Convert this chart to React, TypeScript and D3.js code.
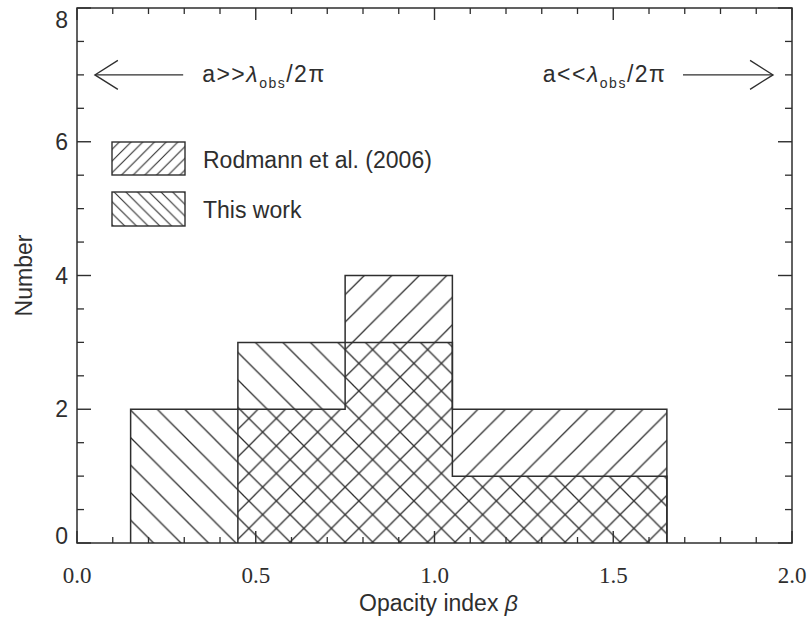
import React from "react";
import * as d3 from "d3";

// ---- data ----
const binEdges = [0.15, 0.45, 0.75, 1.05, 1.35, 1.65];
const thisWork = [2, 3, 3, 1, 1];
const rodmann = [0, 2, 4, 2, 2];
const xMajorTicks = [0, 0.5, 1.0, 1.5, 2.0];
const xTickLabels = ["0.0", "0.5", "1.0", "1.5", "2.0"];
const yMajorTicks = [0, 2, 4, 6, 8];
const yTickLabels = ["0", "2", "4", "6", "8"];
const legendLabels = ["Rodmann et al. (2006)", "This work"];
const xTitle = "Opacity index ";
const yTitle = "Number";

const W = 808;
const H = 630;
const M = { left: 77, right: 792, top: 8, bottom: 543 };
const INK = "#2e2e2e";
const SANS = "'Liberation Sans', Arial, Helvetica, sans-serif";
const SERIF = "'Liberation Serif', 'Times New Roman', serif";
const FS = 23;

export default function App() {
  const x = d3.scaleLinear().domain([0, 2]).range([M.left, M.right]);
  const y = d3.scaleLinear().domain([0, 8]).range([M.bottom, M.top]);

  const stepPts = (vals: number[]) => {
    const pts: [number, number][] = vals.map((v, i) => [binEdges[i], v]);
    pts.push([binEdges[binEdges.length - 1], vals[vals.length - 1]]);
    return pts;
  };
  const area = d3
    .area<[number, number]>()
    .x((d) => x(d[0]))
    .y0(y(0))
    .y1((d) => y(d[1]))
    .curve(d3.curveStepAfter);
  const outline = d3
    .line<[number, number]>()
    .x((d) => x(d[0]))
    .y((d) => y(d[1]))
    .curve(d3.curveStepAfter);
  const outlinePts = (vals: number[]) => {
    const firstNonZero = vals.findIndex((v) => v > 0);
    const pts: [number, number][] = [[binEdges[firstNonZero], 0]];
    for (let i = firstNonZero; i < vals.length; i++) pts.push([binEdges[i], vals[i]]);
    pts.push([binEdges[binEdges.length - 1], vals[vals.length - 1]]);
    pts.push([binEdges[binEdges.length - 1], 0]);
    return pts;
  };

  const xMinor = d3.range(0, 2.0001, 0.1).filter((t) => Math.abs(t * 2 - Math.round(t * 2)) > 1e-6);
  const yMinor = d3.range(0, 8.0001, 0.5).filter((t) => Math.abs(t / 2 - Math.round(t / 2)) > 1e-6);

  const S = 27.5;
  const LS = 11.7;
  const hatchPath = (s: number, dir: "f" | "b") =>
    dir === "f"
      ? `M0,${s} L${s},0 M${-s / 4},${s / 4} L${s / 4},${-s / 4} M${(3 * s) / 4},${(5 * s) / 4} L${(5 * s) / 4},${(3 * s) / 4}`
      : `M0,0 L${s},${s} M${-s / 4},${(3 * s) / 4} L${s / 4},${(5 * s) / 4} M${(3 * s) / 4},${-s / 4} L${(5 * s) / 4},${s / 4}`;

  const arrowY = y(7);
  const leftArrow = { tip: x(0.05), tail: x(0.297) };
  const rightArrow = { tail: x(1.695), tip: x(1.947) };
  const head = (tipX: number, dirSign: number) =>
    `M${tipX + dirSign * 23},${arrowY - 14.5} L${tipX},${arrowY} L${tipX + dirSign * 23},${arrowY + 14.5}`;

  const legendX = 112;
  const legendW = 73;
  const legendRows = [
    { y: 142, h: 33, pat: "lgF" },
    { y: 192, h: 34, pat: "lgB" },
  ];

  return (
    <svg
      width={W}
      height={H}
      style={{ position: "absolute", left: 0, top: 0, background: "#fff" }}
    >
      <defs>
        <pattern id="hF" patternUnits="userSpaceOnUse" x={7.25} y={0} width={S} height={S}>
          <path d={hatchPath(S, "f")} stroke={INK} strokeWidth={1.3} fill="none" />
        </pattern>
        <pattern id="hB" patternUnits="userSpaceOnUse" x={23} y={0} width={S} height={S}>
          <path d={hatchPath(S, "b")} stroke={INK} strokeWidth={1.3} fill="none" />
        </pattern>
        <pattern id="lgF" patternUnits="userSpaceOnUse" x={4} y={0} width={LS} height={LS}>
          <path d={hatchPath(LS, "f")} stroke={INK} strokeWidth={1.1} fill="none" />
        </pattern>
        <pattern id="lgB" patternUnits="userSpaceOnUse" x={4} y={0} width={LS} height={LS}>
          <path d={hatchPath(LS, "b")} stroke={INK} strokeWidth={1.1} fill="none" />
        </pattern>
      </defs>
      <rect x={0} y={0} width={W} height={H} fill="#fff" />

      {/* hatched fills */}
      <path d={area(stepPts(rodmann)) || ""} fill="url(#hF)" />
      <path d={area(stepPts(thisWork)) || ""} fill="url(#hB)" />
      {/* outlines */}
      <path d={outline(outlinePts(rodmann)) || ""} fill="none" stroke={INK} strokeWidth={1.5} />
      <path d={outline(outlinePts(thisWork)) || ""} fill="none" stroke={INK} strokeWidth={1.5} />

      {/* frame */}
      <rect
        x={M.left}
        y={M.top}
        width={M.right - M.left}
        height={M.bottom - M.top}
        fill="none"
        stroke={INK}
        strokeWidth={1.5}
      />

      {/* x ticks (bottom and top, inward) */}
      {xMajorTicks.map((t) => (
        <g key={"xM" + t}>
          <line x1={x(t)} x2={x(t)} y1={M.bottom} y2={M.bottom - 12} stroke={INK} strokeWidth={1.4} />
          <line x1={x(t)} x2={x(t)} y1={M.top} y2={M.top + 12} stroke={INK} strokeWidth={1.4} />
        </g>
      ))}
      {xMinor.map((t) => (
        <g key={"xm" + t}>
          <line x1={x(t)} x2={x(t)} y1={M.bottom} y2={M.bottom - 6} stroke={INK} strokeWidth={1.3} />
          <line x1={x(t)} x2={x(t)} y1={M.top} y2={M.top + 6} stroke={INK} strokeWidth={1.3} />
        </g>
      ))}
      {/* y ticks (left and right, inward) */}
      {yMajorTicks.map((t) => (
        <g key={"yM" + t}>
          <line x1={M.left} x2={M.left + 14} y1={y(t)} y2={y(t)} stroke={INK} strokeWidth={1.4} />
          <line x1={M.right} x2={M.right - 14} y1={y(t)} y2={y(t)} stroke={INK} strokeWidth={1.4} />
        </g>
      ))}
      {yMinor.map((t) => (
        <g key={"ym" + t}>
          <line x1={M.left} x2={M.left + 7} y1={y(t)} y2={y(t)} stroke={INK} strokeWidth={1.3} />
          <line x1={M.right} x2={M.right - 7} y1={y(t)} y2={y(t)} stroke={INK} strokeWidth={1.3} />
        </g>
      ))}

      {/* x tick labels (serif) */}
      {xMajorTicks.map((t, i) => (
        <text
          key={"xl" + t}
          x={x(t)}
          y={583}
          textAnchor="middle"
          fontFamily={SERIF}
          fontSize={FS}
          fill={INK}
        >
          {xTickLabels[i]}
        </text>
      ))}
      {/* y tick labels */}
      {yMajorTicks.map((t, i) => (
        <text
          key={"yl" + t}
          x={68}
          y={Math.min(Math.max(y(t), 20), 536)}
          textAnchor="end"
          dominantBaseline="central"
          fontFamily={SANS}
          fontSize={FS}
          fill={INK}
        >
          {yTickLabels[i]}
        </text>
      ))}

      {/* axis titles */}
      <text
        x={(M.left + M.right) / 2 + 4}
        y={611}
        textAnchor="middle"
        fontFamily={SANS}
        fontSize={FS}
        fill={INK}
      >
        {xTitle}
        <tspan fontStyle="italic">β</tspan>
      </text>
      <text
        transform={`translate(32,${(y(0) + y(8)) / 2}) rotate(-90)`}
        textAnchor="middle"
        fontFamily={SANS}
        fontSize={FS}
        fill={INK}
      >
        {yTitle}
      </text>

      {/* annotations */}
      <line x1={leftArrow.tip} x2={leftArrow.tail} y1={arrowY} y2={arrowY} stroke={INK} strokeWidth={1.3} />
      <path d={head(leftArrow.tip, 1)} fill="none" stroke={INK} strokeWidth={1.3} />
      <line x1={rightArrow.tail} x2={rightArrow.tip} y1={arrowY} y2={arrowY} stroke={INK} strokeWidth={1.3} />
      <path d={head(rightArrow.tip, -1)} fill="none" stroke={INK} strokeWidth={1.3} />
      <text x={x(0.35)} y={arrowY + 7} fontFamily={SANS} fontSize={FS} fill={INK} letterSpacing={1.5}>
        a{">>"}
        <tspan fontStyle="italic">λ</tspan>
        <tspan fontSize={14} dy={6}>obs</tspan>
        <tspan dy={-6}>/2π</tspan>
      </text>
      <text x={x(1.303)} y={arrowY + 7} fontFamily={SANS} fontSize={FS} fill={INK} letterSpacing={1.5}>
        a{"<<"}
        <tspan fontStyle="italic">λ</tspan>
        <tspan fontSize={14} dy={6}>obs</tspan>
        <tspan dy={-6}>/2π</tspan>
      </text>

      {/* legend */}
      {legendRows.map((r, i) => (
        <g key={"lg" + i}>
          <rect x={legendX} y={r.y} width={legendW} height={r.h} fill={`url(#${r.pat})`} stroke={INK} strokeWidth={1.4} />
          <text
            x={203}
            y={r.y + r.h / 2 + 1}
            dominantBaseline="central"
            fontFamily={SANS}
            fontSize={FS}
            fill={INK}
          >
            {legendLabels[i]}
          </text>
        </g>
      ))}
    </svg>
  );
}
